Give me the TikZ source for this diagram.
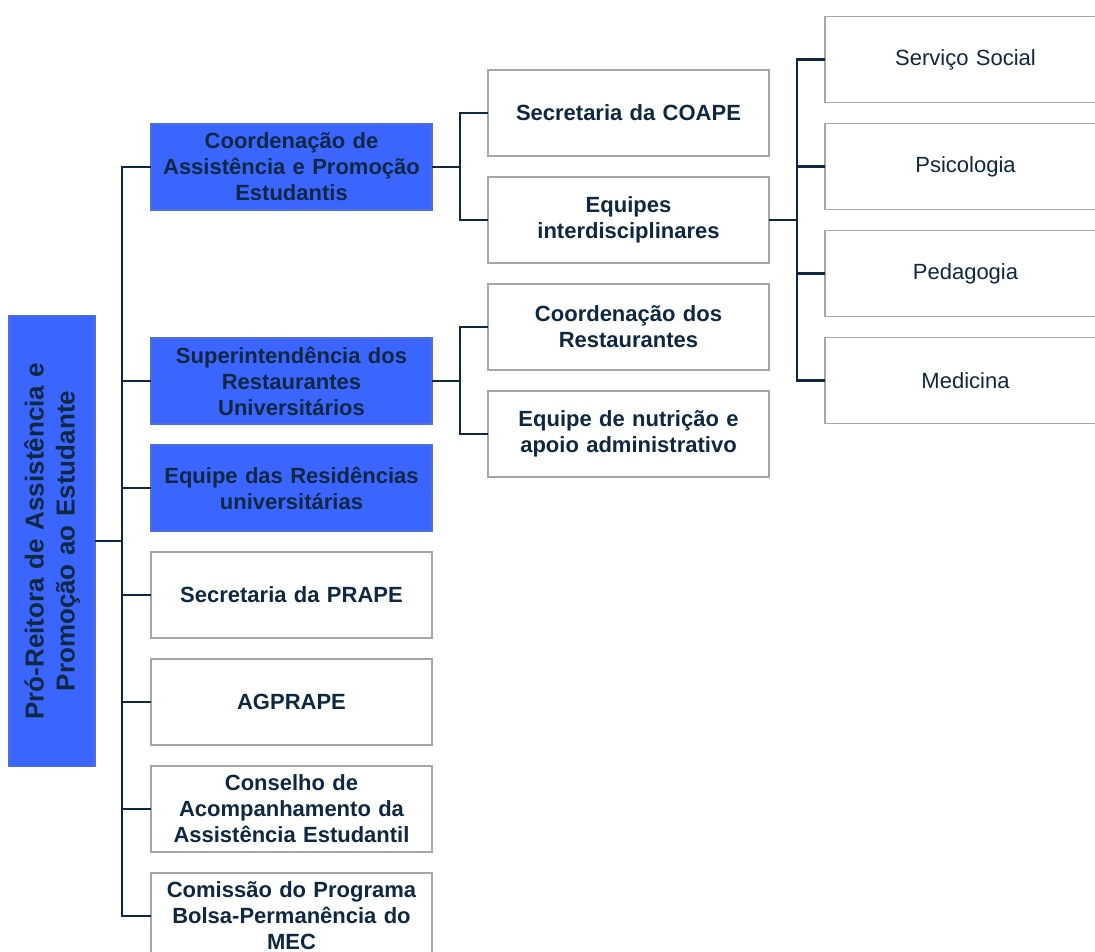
\documentclass[tikz,border=0pt]{standalone}
\usepackage{fontspec}
\setmainfont{Liberation Sans}
\usetikzlibrary{positioning}
\definecolor{navy}{HTML}{0E2841}
\definecolor{boxblue}{RGB}{58,102,255}
\definecolor{boxgray}{HTML}{A6A6A6}
\tikzset{
    unitbox/.style = {rectangle, draw=boxgray, line width=1.2pt, outer sep=0pt, minimum width=281pt, minimum height=86pt,
                      text width=275pt, inner xsep=3pt, inner ysep=2pt, align=center, text=navy,
                      font=\fontsize{22}{26}\selectfont\bfseries},
    bluebox/.style = {unitbox, fill=boxblue, draw=boxblue!70!gray},
    whitebox/.style = {unitbox, fill=white},
    leafbox/.style = {unitbox, fill=white, font=\fontsize{22}{26}\selectfont},
    rootbox/.style = {bluebox, rotate=90, minimum width=451pt, minimum height=86pt, text width=445pt,
                      font=\fontsize{26}{31}\selectfont\bfseries},
    edgen/.style = {draw=navy, line width=2.6pt},
}
\begin{document}
\begin{tikzpicture}[x=1pt, y=-1pt, node distance=21pt]
  \useasboundingbox (0,0) rectangle (1095,951);
  \clip (0,0) rectangle (1095,951);
  % root
  \node[rootbox] (root) at (52,541) {Pró-Reitora de Assistência e\\Promoção ao Estudante};
  % first level
  \node[bluebox] (coape) at (291.5,167) {Coordenação de\\Assistência e Promoção\\Estudantis};
  \node[bluebox, below=128pt of coape] (sru) {Superintendência dos\\Restaurantes\\Universitários};
  \node[bluebox, below=of sru] (res) {Equipe das Residências\\universitárias};
  \node[whitebox, below=of res] (sec) {Secretaria da PRAPE};
  \node[whitebox, below=of sec] (agp) {AGPRAPE};
  \node[whitebox, below=of agp] (cons) {Conselho de\\Acompanhamento da\\Assistência Estudantil};
  \node[whitebox, below=of cons] (bolsa) {Comissão do Programa\\Bolsa-Permanência do\\MEC};
  % second level
  \node[whitebox] (seccoape) at (628.5,113) {Secretaria da COAPE};
  \node[whitebox, below=of seccoape] (equipes) {Equipes\\interdisciplinares};
  \node[whitebox, below=of equipes] (coordrest) {Coordenação dos\\Restaurantes};
  \node[whitebox, below=of coordrest] (nutri) {Equipe de nutrição e\\apoio administrativo};
  % third level
  \node[leafbox] (social) at (965.5,59.5) {Serviço Social};
  \node[leafbox, below=of social] (psico) {Psicologia};
  \node[leafbox, below=of psico] (pedago) {Pedagogia};
  \node[leafbox, below=of pedago] (medic) {Medicina};
  % connectors
  \foreach \c in {coape,sru,res,sec,agp,cons,bolsa}
    \draw[edgen] (root.south) -- ++(27,0) |- (\c.west);
  \foreach \c in {seccoape,equipes}
    \draw[edgen] (coape.east) -- ++(28,0) |- (\c.west);
  \foreach \c in {coordrest,nutri}
    \draw[edgen] (sru.east) -- ++(28,0) |- (\c.west);
  \foreach \c in {social,psico,pedago,medic}
    \draw[edgen] (equipes.east) -- ++(28,0) |- (\c.west);
\end{tikzpicture}
\end{document}
